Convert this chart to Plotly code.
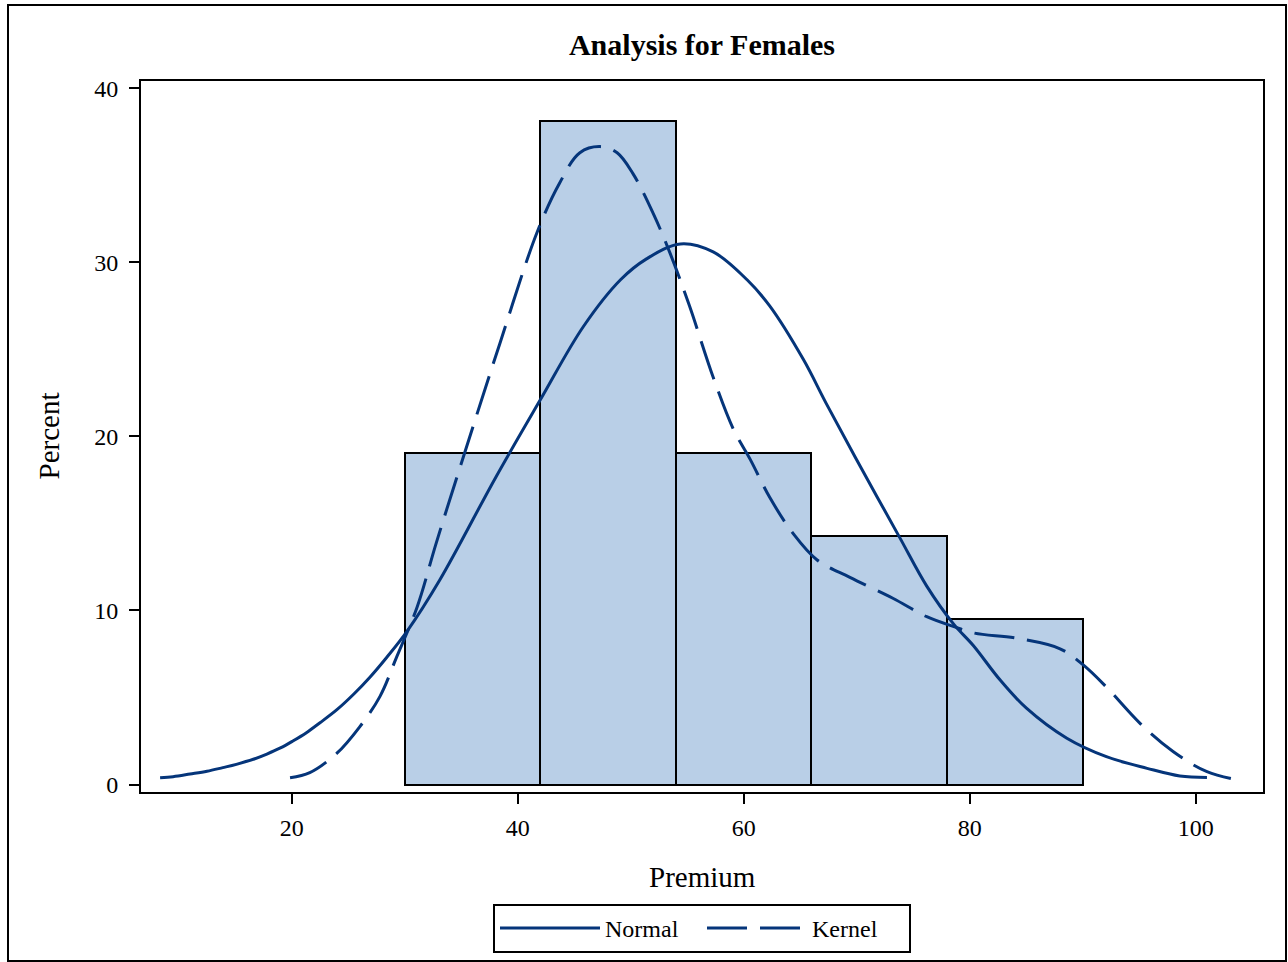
import plotly.graph_objects as go

# Histogram bins (Premium) and percents
bin_mid = [36, 48, 60, 72, 84]
bin_width = 12
bin_pct = [19.05, 38.10, 19.05, 14.29, 9.52]

# Normal density curve
normal_x = [8.35, 9.5, 11.0, 12.5, 13.9, 15.1, 16.6, 17.8, 19.0, 20.1, 21.3, 22.5, 24.0,
            25.5, 26.9, 28.4, 30.2, 33.1, 38.1, 42.0, 45.8, 49.1, 51.4, 54.4, 57.3, 60.3,
            62.3, 65.3, 67.3, 70.3, 73.8, 76.2, 78.6, 80.3, 82.7, 85.0, 88.6, 92.1, 95.7,
            98.6, 101.0]
normal_y = [0.39, 0.45, 0.6, 0.76, 0.97, 1.16, 1.45, 1.75, 2.1, 2.5, 2.98, 3.55, 4.3,
            5.2, 6.15, 7.3, 8.8, 11.75, 17.7, 22.1, 26.3, 29.0, 30.2, 31.06, 30.6, 29.0,
            27.5, 24.4, 21.9, 18.3, 14.2, 11.4, 9.2, 8.0, 6.0, 4.4, 2.66, 1.6, 0.93,
            0.49, 0.41]

# Kernel density curve
kernel_x = [19.85, 21.6, 24.0, 26.0, 27.8, 29.3, 31.1, 32.8, 35.3, 38.4, 41.7, 43.7, 45.5,
            47.3, 48.8, 50.2, 52.0, 53.5, 55.2, 57.3, 59.1, 60.6, 62.3, 64.4, 66.5, 69.4,
            73.2, 76.2, 78.6, 80.4, 84.2, 88.0, 90.05, 92.1, 95.1, 98.0, 101.0, 104.2]
kernel_y = [0.39, 0.68, 1.8, 3.3, 5.05, 7.35, 10.2, 13.9, 19.05, 25.3, 31.7, 34.55, 36.3,
            36.65, 36.3, 35.1, 32.8, 30.5, 27.5, 23.4, 20.4, 18.65, 16.5, 14.4, 12.9, 11.9,
            10.7, 9.64, 9.07, 8.7, 8.4, 7.8, 6.87, 5.6, 3.5, 1.9, 0.74, 0.2]

x_ticks = [20, 40, 60, 80, 100]
y_ticks = [0, 10, 20, 30, 40]

LINE = "#05357A"
FILL = "#B9CFE7"
FONT = "Liberation Serif"

fig = go.Figure()
fig.add_trace(go.Bar(x=bin_mid, y=bin_pct, width=bin_width,
                     marker=dict(color=FILL, line=dict(color="black", width=2)),
                     showlegend=False, hoverinfo="skip"))
fig.add_trace(go.Scatter(x=normal_x, y=normal_y, mode="lines", name="Normal",
                         line=dict(color=LINE, width=3, shape="spline", smoothing=1.0)))
fig.add_trace(go.Scatter(x=kernel_x, y=kernel_y, mode="lines", name="Kernel",
                         line=dict(color=LINE, width=3, dash="40px,13px",
                                   shape="spline", smoothing=1.0)))

W, H = 1288, 962
L, R, T, B = 141, 25, 81, 170
pw, ph = W - L - R, H - T - B

def px(xp):
    return (xp - L) / pw

def py(yp):
    return (H - B - yp) / ph

fig.update_layout(
    width=W, height=H,
    margin=dict(l=L, r=R, t=T, b=B, autoexpand=False),
    paper_bgcolor="white", plot_bgcolor="white",
    font=dict(family=FONT, size=24, color="black"),
    title=dict(text="<b>Analysis for Females</b>", x=0.5, xref="paper",
               y=1 - 44 / H, yanchor="middle", font=dict(family=FONT, size=30, color="black")),
    bargap=0,
    xaxis=dict(range=[6.66, 105.96], tickvals=x_ticks, ticks="outside", ticklen=10,
               tickwidth=2, tickcolor="black", showline=True, linecolor="black",
               linewidth=2, mirror=True, showgrid=False, zeroline=False,
               ticklabelstandoff=3,
               tickfont=dict(family=FONT, size=24, color="black")),
    yaxis=dict(range=[-0.43, 40.42], tickvals=y_ticks, ticks="outside", ticklen=10,
               tickwidth=2, tickcolor="black", showline=True, linecolor="black",
               linewidth=2, mirror=True, showgrid=False, zeroline=False,
               ticklabelstandoff=6,
               tickfont=dict(family=FONT, size=24, color="black")),
    legend=dict(orientation="h", x=0.5, xanchor="center", y=py(904), yanchor="top",
                bordercolor="black", borderwidth=2, bgcolor="white",
                font=dict(family=FONT, size=24, color="black"),
                entrywidth=92, itemwidth=100),
    annotations=[
        dict(text="Premium", x=0.5, y=py(877), xref="paper", yref="paper",
             showarrow=False, xanchor="center", yanchor="middle",
             font=dict(family=FONT, size=29, color="black")),
        dict(text="Percent", x=px(48), y=0.5, xref="paper", yref="paper",
             showarrow=False, xanchor="center", yanchor="middle", textangle=-90,
             font=dict(family=FONT, size=29, color="black")),
    ],
    shapes=[dict(type="rect", xref="paper", yref="paper",
                 x0=px(8), x1=px(1286), y0=py(961), y1=py(5),
                 line=dict(color="black", width=2), layer="below")],
)

fig.write_html("out.html", config={"displayModeBar": False},
               post_script="document.body.style.margin='0px';")
